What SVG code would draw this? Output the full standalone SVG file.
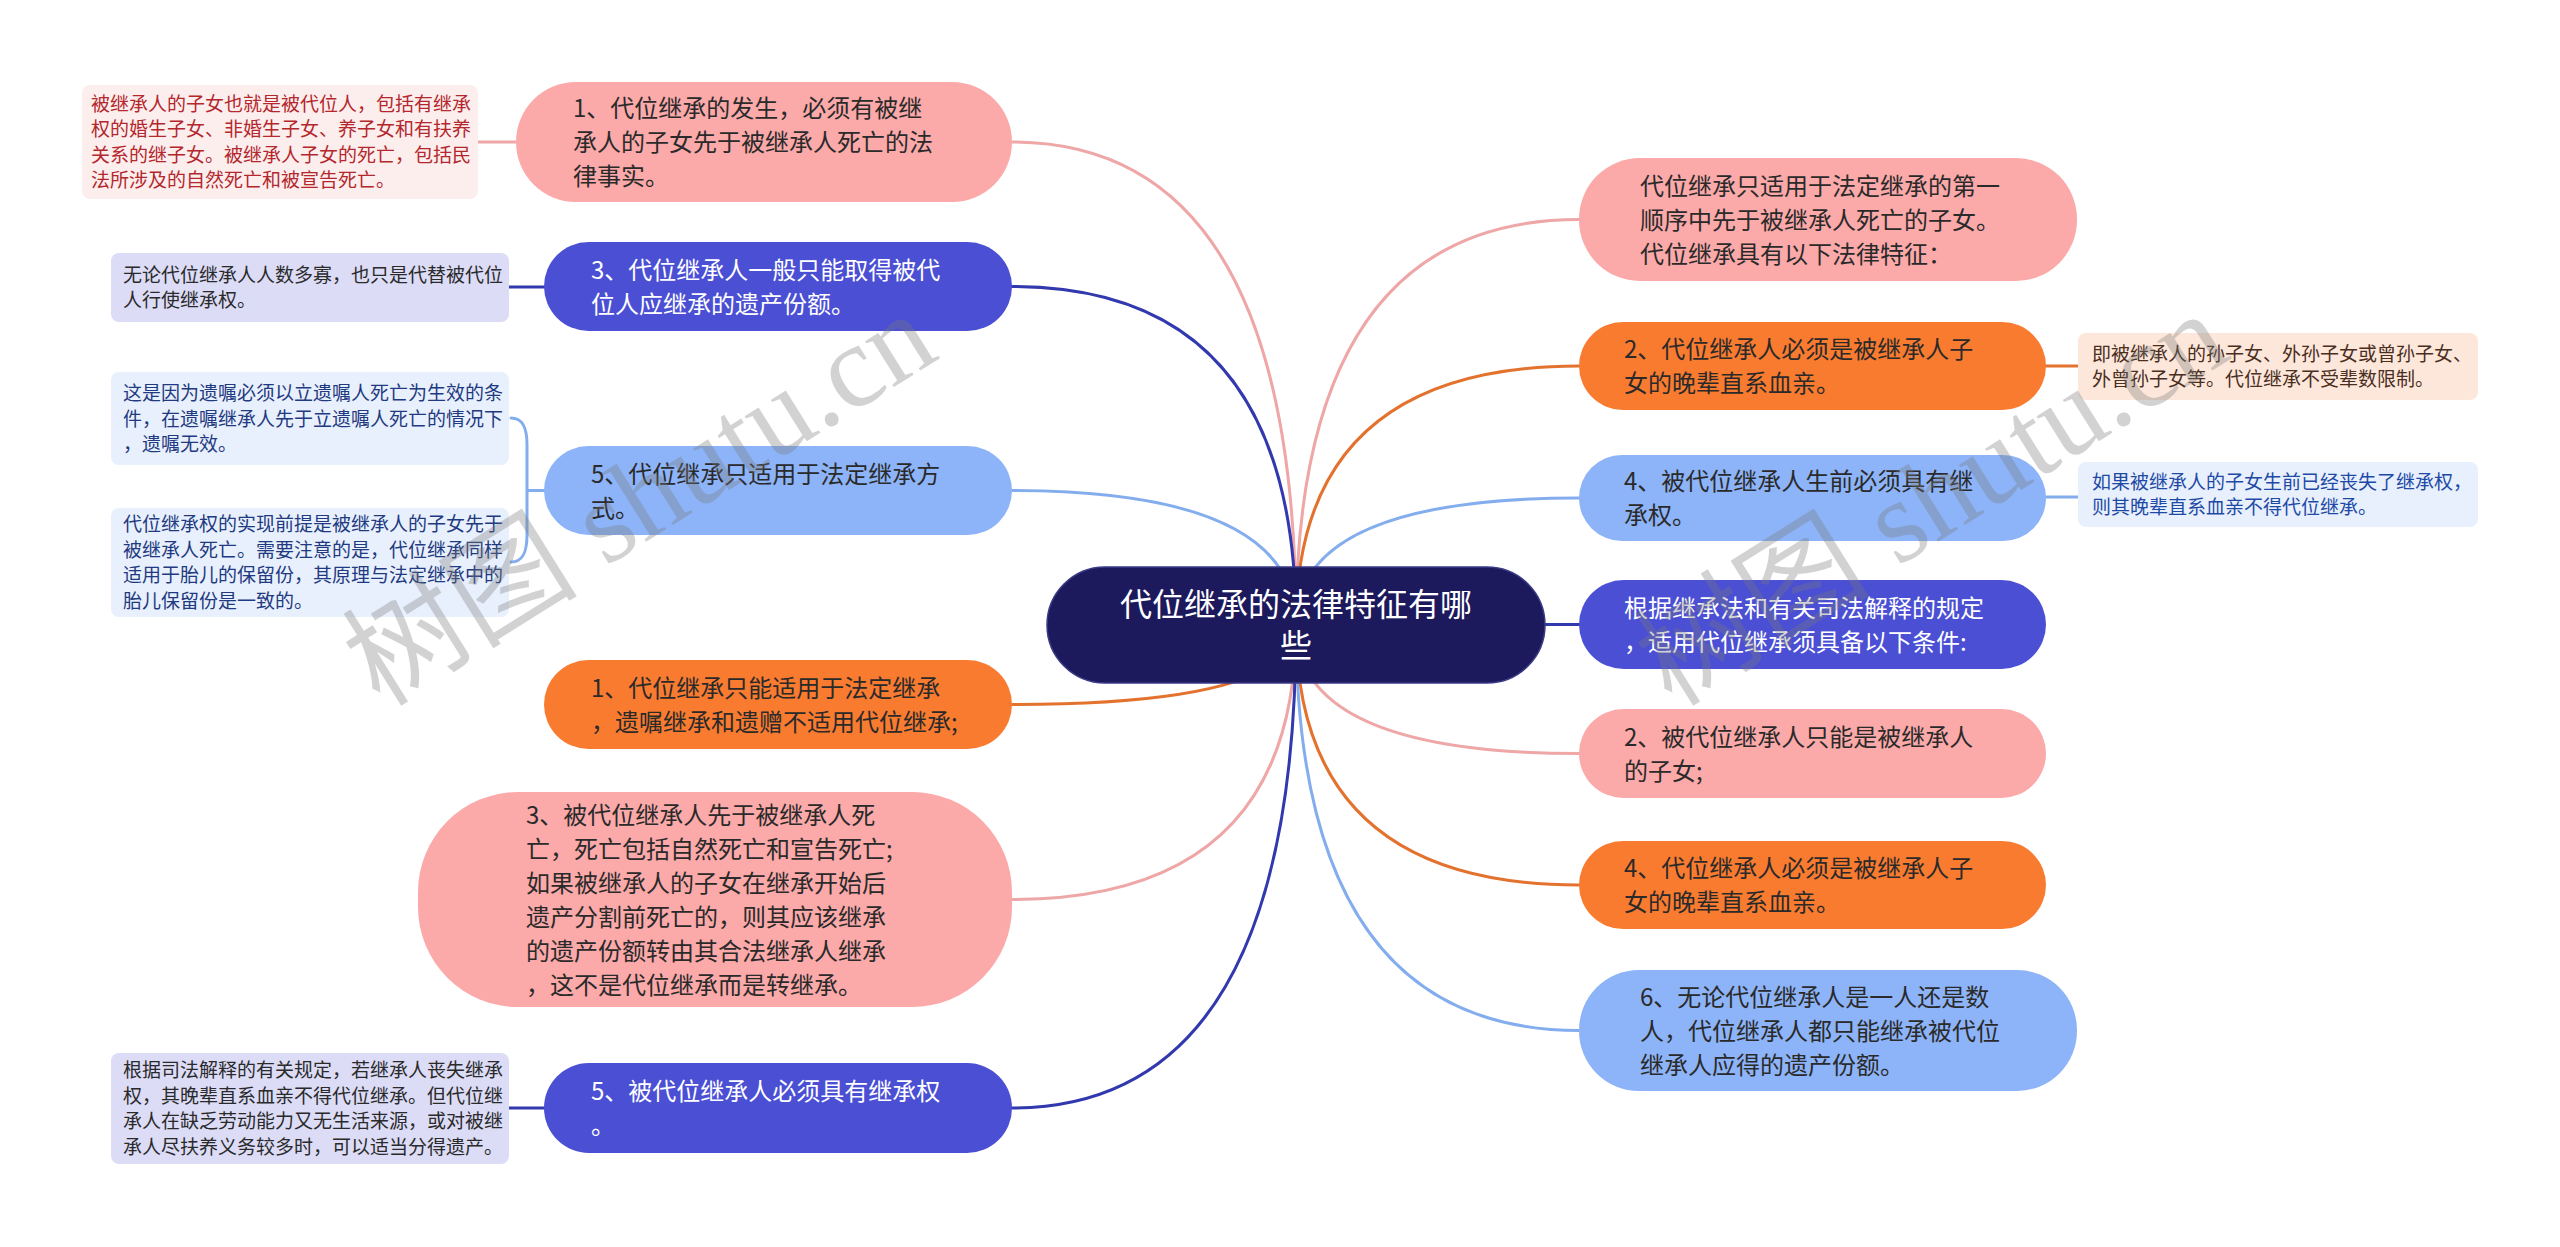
<svg xmlns="http://www.w3.org/2000/svg" width="2560" height="1247" viewBox="0 0 2560 1247">
<style>
  text { font-family: "Noto Sans CJK SC", "Noto Sans", sans-serif; }
  .main { font-size: 24px; fill: #2a2a2a; }
  .mainw { font-size: 24px; fill: #ffffff; }
  .root { font-size: 32px; fill: #ffffff; text-anchor: middle; }
  .note { font-size: 19px; fill: #2a2a2a; }
  .pink { fill: #fba9a9; }
  .orange { fill: #f97b30; }
  .blue { fill: #4a4fd4; }
  .lblue { fill: #8db4f8; }
  .c { fill: none; stroke-width: 3; stroke-linecap: round; }
  .cp { stroke: #eea6a6; }
  .co { stroke: #e3722e; }
  .cb { stroke: #3238ad; }
  .cl { stroke: #84adee; }
  .wm { fill: #7a7a7a; opacity: 0.33; font-family: "Liberation Serif", "Noto Sans CJK SC", serif; font-size: 118px; }
</style>
<rect width="2560" height="1247" fill="#ffffff"/>

<g id="connectors">
  <path class="c cp" d="M1296,625 Q1296,142 1012,142"/>
  <path class="c cb" d="M1296,625 Q1296,286.5 1012,286.5"/>
  <path class="c cl" d="M1296,625 Q1296,490.5 1012,490.5"/>
  <path class="c co" d="M1296,625 Q1296,704.5 1012,704.5"/>
  <path class="c cp" d="M1296,625 Q1296,899.5 1012,899.5"/>
  <path class="c cb" d="M1296,625 Q1296,1108 1012,1108"/>
  <path class="c cp" d="M1296,625 Q1296,219.5 1579,219.5"/>
  <path class="c co" d="M1296,625 Q1296,366 1579,366"/>
  <path class="c cl" d="M1296,625 Q1296,498 1579,498"/>
  <path class="c cb" d="M1296,625 Q1296,624.5 1579,624.5"/>
  <path class="c cp" d="M1296,625 Q1296,753.5 1579,753.5"/>
  <path class="c co" d="M1296,625 Q1296,885 1579,885"/>
  <path class="c cl" d="M1296,625 Q1296,1030.5 1579,1030.5"/>
  <path class="c cp" d="M516,142 H478"/>
  <path class="c cb" d="M544,287 H509"/>
  <path class="c cl" d="M546,490.5 H527 M511,418 C523,418 527,428 527,445 L527,535 C527,552 523,562 511,562"/>
  <path class="c cb" d="M544,1108 H509"/>
  <path class="c co" d="M2046,366 H2078"/>
  <path class="c cl" d="M2046,497 H2078"/>
</g>

<g id="root">
  <rect x="1047" y="567" width="498" height="116" rx="58" fill="#1c1a5c" stroke="#3a3a86" stroke-width="1.5"/>
  <text class="root" x="1296" y="616">代位继承的法律特征有哪</text>
  <text class="root" x="1296" y="657">些</text>
</g>

<g id="L1">
  <rect class="pink" x="516" y="82" width="496" height="120" rx="60"/>
  <text class="main" x="573" y="117">1、代位继承的发生，必须有被继</text>
  <text class="main" x="573" y="151">承人的子女先于被继承人死亡的法</text>
  <text class="main" x="573" y="185">律事实。</text>
</g>
<g id="L2">
  <rect class="blue" x="544" y="242" width="468" height="89" rx="44.5"/>
  <text class="mainw" x="591" y="278.5">3、代位继承人一般只能取得被代</text>
  <text class="mainw" x="591" y="312.5">位人应继承的遗产份额。</text>
</g>
<g id="L3">
  <rect class="lblue" x="544" y="446" width="468" height="89" rx="44.5"/>
  <text class="main" x="591" y="482.5">5、代位继承只适用于法定继承方</text>
  <text class="main" x="591" y="516.5">式。</text>
</g>
<g id="L4">
  <rect class="orange" x="544" y="660" width="468" height="89" rx="44.5"/>
  <text class="main" x="591" y="696.5">1、代位继承只能适用于法定继承</text>
  <text class="main" x="591" y="730.5">，遗嘱继承和遗赠不适用代位继承;</text>
</g>
<g id="L5">
  <rect class="pink" x="418" y="792" width="594" height="215" rx="100"/>
  <text class="main" x="526" y="823.5">3、被代位继承人先于被继承人死</text>
  <text class="main" x="526" y="857.5">亡，死亡包括自然死亡和宣告死亡;</text>
  <text class="main" x="526" y="891.5">如果被继承人的子女在继承开始后</text>
  <text class="main" x="526" y="925.5">遗产分割前死亡的，则其应该继承</text>
  <text class="main" x="526" y="959.5">的遗产份额转由其合法继承人继承</text>
  <text class="main" x="526" y="993.5">，这不是代位继承而是转继承。</text>
</g>
<g id="L6">
  <rect class="blue" x="544" y="1063" width="468" height="90" rx="45"/>
  <text class="mainw" x="591" y="1100">5、被代位继承人必须具有继承权</text>
  <text class="mainw" x="591" y="1134">。</text>
</g>

<g id="R1">
  <rect class="pink" x="1579" y="158" width="498" height="123" rx="61"/>
  <text class="main" x="1640" y="194.5">代位继承只适用于法定继承的第一</text>
  <text class="main" x="1640" y="228.5">顺序中先于被继承人死亡的子女。</text>
  <text class="main" x="1640" y="262.5">代位继承具有以下法律特征：</text>
</g>
<g id="R2">
  <rect class="orange" x="1579" y="322" width="467" height="88" rx="44"/>
  <text class="main" x="1624" y="358">2、代位继承人必须是被继承人子</text>
  <text class="main" x="1624" y="392">女的晚辈直系血亲。</text>
</g>
<g id="R3">
  <rect class="lblue" x="1579" y="455" width="467" height="86" rx="43"/>
  <text class="main" x="1624" y="490">4、被代位继承人生前必须具有继</text>
  <text class="main" x="1624" y="524">承权。</text>
</g>
<g id="R4">
  <rect class="blue" x="1579" y="580" width="467" height="89" rx="44.5"/>
  <text class="mainw" x="1624" y="616.5">根据继承法和有关司法解释的规定</text>
  <text class="mainw" x="1624" y="650.5">，适用代位继承须具备以下条件:</text>
</g>
<g id="R5">
  <rect class="pink" x="1579" y="709" width="467" height="89" rx="44.5"/>
  <text class="main" x="1624" y="745.5">2、被代位继承人只能是被继承人</text>
  <text class="main" x="1624" y="779.5">的子女;</text>
</g>
<g id="R6">
  <rect class="orange" x="1579" y="841" width="467" height="88" rx="44"/>
  <text class="main" x="1624" y="877">4、代位继承人必须是被继承人子</text>
  <text class="main" x="1624" y="911">女的晚辈直系血亲。</text>
</g>
<g id="R7">
  <rect class="lblue" x="1579" y="970" width="498" height="121" rx="60"/>
  <text class="main" x="1640" y="1005.5">6、无论代位继承人是一人还是数</text>
  <text class="main" x="1640" y="1039.5">人，代位继承人都只能继承被代位</text>
  <text class="main" x="1640" y="1073.5">继承人应得的遗产份额。</text>
</g>

<g id="N1">
  <rect x="82" y="85" width="396" height="114" rx="8" fill="#fdeeee"/>
  <text class="note" x="91" y="110.75" style="fill:#b3272d">被继承人的子女也就是被代位人，包括有继承</text>
  <text class="note" x="91" y="136.25" style="fill:#b3272d">权的婚生子女、非婚生子女、养子女和有扶养</text>
  <text class="note" x="91" y="161.75" style="fill:#b3272d">关系的继子女。被继承人子女的死亡，包括民</text>
  <text class="note" x="91" y="187.25" style="fill:#b3272d">法所涉及的自然死亡和被宣告死亡。</text>
</g>
<g id="N2">
  <rect x="111" y="253" width="398" height="69" rx="8" fill="#dcdcf7"/>
  <text class="note" x="123" y="281.75">无论代位继承人人数多寡，也只是代替被代位</text>
  <text class="note" x="123" y="307.25">人行使继承权。</text>
</g>
<g id="N3a">
  <rect x="111" y="372" width="398" height="93" rx="8" fill="#e8f0fd"/>
  <text class="note" x="123" y="400" style="fill:#1f3a80">这是因为遗嘱必须以立遗嘱人死亡为生效的条</text>
  <text class="note" x="123" y="425.5" style="fill:#1f3a80">件，在遗嘱继承人先于立遗嘱人死亡的情况下</text>
  <text class="note" x="123" y="451" style="fill:#1f3a80">，遗嘱无效。</text>
</g>
<g id="N3b">
  <rect x="111" y="508" width="398" height="109" rx="8" fill="#e8f0fd"/>
  <text class="note" x="123" y="531.25" style="fill:#1f3a80">代位继承权的实现前提是被继承人的子女先于</text>
  <text class="note" x="123" y="556.75" style="fill:#1f3a80">被继承人死亡。需要注意的是，代位继承同样</text>
  <text class="note" x="123" y="582.25" style="fill:#1f3a80">适用于胎儿的保留份，其原理与法定继承中的</text>
  <text class="note" x="123" y="607.75" style="fill:#1f3a80">胎儿保留份是一致的。</text>
</g>
<g id="N6">
  <rect x="111" y="1053" width="398" height="111" rx="8" fill="#dcdcf7"/>
  <text class="note" x="123" y="1077.25">根据司法解释的有关规定，若继承人丧失继承</text>
  <text class="note" x="123" y="1102.75">权，其晚辈直系血亲不得代位继承。但代位继</text>
  <text class="note" x="123" y="1128.25">承人在缺乏劳动能力又无生活来源，或对被继</text>
  <text class="note" x="123" y="1153.75">承人尽扶养义务较多时，可以适当分得遗产。</text>
</g>
<g id="NR2">
  <rect x="2078" y="333" width="400" height="67" rx="8" fill="#fde7da"/>
  <text class="note" x="2092" y="360.75" style="fill:#4a2e1e">即被继承人的孙子女、外孙子女或曾孙子女、</text>
  <text class="note" x="2092" y="386.25" style="fill:#4a2e1e">外曾孙子女等。代位继承不受辈数限制。</text>
</g>
<g id="NR3">
  <rect x="2078" y="462" width="400" height="65" rx="8" fill="#e8f0fd"/>
  <text class="note" x="2092" y="488.75" style="fill:#1e4aa6">如果被继承人的子女生前已经丧失了继承权，</text>
  <text class="note" x="2092" y="514.25" style="fill:#1e4aa6">则其晚辈直系血亲不得代位继承。</text>
</g>

<g id="watermarks">
  <text class="wm" transform="translate(380,708) rotate(-32)">树图 shutu.cn</text>
  <text class="wm" transform="translate(1672,708) rotate(-32)">树图 shutu.cn</text>
</g>
</svg>
